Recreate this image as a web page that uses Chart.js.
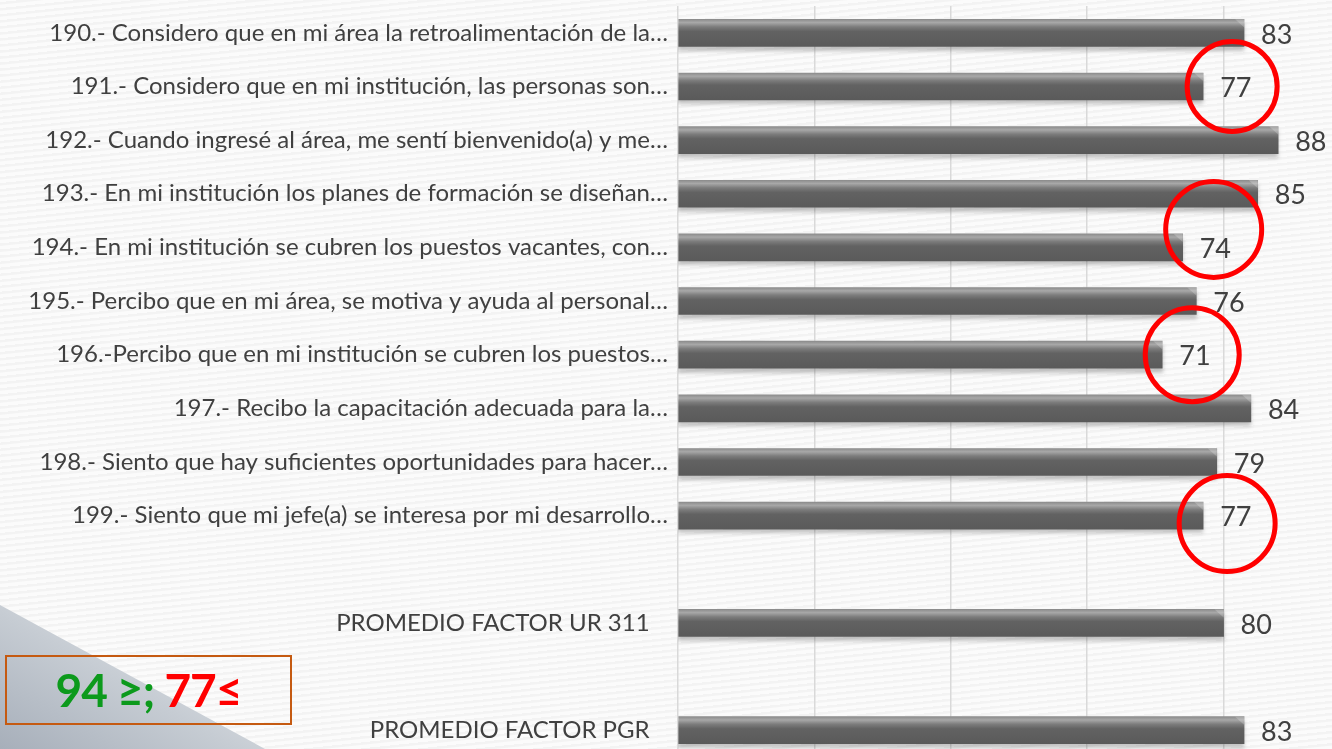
<!DOCTYPE html>
<html>
<head>
<meta charset="utf-8">
<script src="https://cdn.jsdelivr.net/npm/chart.js@4/dist/chart.umd.min.js"></script>
<style>
  html, body { margin: 0; padding: 0; width: 1332px; height: 749px; overflow: hidden; }
  body {
    position: relative;
    background: repeating-linear-gradient(-6deg, #fbfbfb 0px, #fbfbfb 3px, #f3f3f3 4px, #f3f3f3 6px);
  }
  #corner {
    position: absolute; left: 0; top: 0; width: 1332px; height: 749px;
    background: linear-gradient(30deg, #a7afba 0%, #c6ccd3 9%, #e3e6ea 16%, rgba(240,240,240,0) 17%);
    clip-path: polygon(0 605px, 265px 749px, 0 749px);
  }
  #wrap { position: absolute; left: 0; top: 0; width: 1360px; height: 757px; }
  #legendBox {
    position: absolute; left: 5px; top: 655px; width: 283px; height: 66px;
    border: 2px solid #c55a11;
    font-family: Lato, "Noto Sans", sans-serif; font-weight: bold; font-size: 46px;
    line-height: 66px; text-align: center; letter-spacing: -1px;
  }
  #legendBox .g { color: #0c9a1c; }
  #legendBox .r { color: #ff0000; }
</style>
</head>
<body>
<div id="corner"></div>
<div id="wrap"><canvas id="factorChart"></canvas></div>
<div id="legendBox"><span class="g">94 ≥;</span> <span class="r">77≤</span></div>
<script>
// Reactivos del factor (etiquetas como aparecen, truncadas)
const categories = [
    '190.- Considero que en mi área la retroalimentación de la…',
    '191.- Considero que en mi institución, las personas son…',
    '192.- Cuando ingresé al área, me sentí bienvenido(a) y me…',
    '193.- En mi institución los planes de formación se diseñan…',
    '194.- En mi institución se cubren los puestos vacantes, con…',
    '195.- Percibo que en mi área, se motiva y ayuda al personal…',
    '196.-Percibo que en mi institución se cubren los puestos…',
    '197.- Recibo la capacitación adecuada para la…',
    '198.- Siento que hay suficientes oportunidades para hacer…',
    '199.- Siento que mi jefe(a) se interesa por mi desarrollo…',
    '',
    'PROMEDIO FACTOR UR 311   ',
    '',
    'PROMEDIO FACTOR PGR   '
];
const scores = [83, 77, 88, 85, 74, 76, 71, 84, 79, 77, null, 80, null, 83];
const xTicks = [0, 20, 40, 60, 80, 100];
// reactivos marcados con círculo rojo (por debajo del umbral)
const flagged = [1, 4, 6, 9];

const textColor = '#404040';

function barGradient(ctx) {
    const chart = ctx.chart;
    const yScale = chart.scales.y;
    if (!yScale || ctx.dataIndex === undefined) return '#5f5f5f';
    const y = yScale.getPixelForValue(ctx.dataIndex);
    if (!isFinite(y)) return '#5f5f5f';
    const g = chart.ctx.createLinearGradient(0, y - 13.5, 0, y + 13.5);
    g.addColorStop(0, '#8c8c8c');
    g.addColorStop(0.12, '#a8a8a8');
    g.addColorStop(0.28, '#7c7c7c');
    g.addColorStop(0.45, '#626262');
    g.addColorStop(1, '#5a5a5a');
    return g;
}

// sombra suave debajo de las barras
const barShadow = {
    id: 'barShadow',
    beforeDatasetsDraw(chart) {
        const c = chart.ctx;
        c.save();
        c.shadowColor = 'rgba(0,0,0,0.22)';
        c.shadowBlur = 4;
        c.shadowOffsetY = 4;
    },
    afterDatasetsDraw(chart) {
        chart.ctx.restore();
    }
};

// biselado claro en el extremo de cada barra
const barBevel = {
    id: 'barBevel',
    afterDatasetsDraw(chart) {
        const c = chart.ctx;
        const meta = chart.getDatasetMeta(0);
        c.save();
        meta.data.forEach((bar, i) => {
            if (scores[i] === null) return;
            const top = bar.y - bar.height / 2;
            c.fillStyle = 'rgba(255,255,255,0.22)';
            c.beginPath();
            c.moveTo(bar.x - 9, top);
            c.lineTo(bar.x, top);
            c.lineTo(bar.x, top + 8);
            c.closePath();
            c.fill();
        });
        c.restore();
    }
};

// valores al final de cada barra
const valueLabels = {
    id: 'valueLabels',
    afterDatasetsDraw(chart) {
        const c = chart.ctx;
        const meta = chart.getDatasetMeta(0);
        c.save();
        c.font = '27px Lato, "Noto Sans", sans-serif';
        c.fillStyle = textColor;
        c.textAlign = 'left';
        c.textBaseline = 'middle';
        meta.data.forEach((bar, i) => {
            if (scores[i] === null) return;
            c.fillText(String(scores[i]), bar.x + 17, bar.y + 2);
        });
        c.restore();
    }
};

// círculos rojos sobre los valores bajos
const circleOffsets = { 1: [29, 0, 45], 4: [31, -18, 48], 6: [30, 0, 47], 9: [24, 8, 48] };
const redCircles = {
    id: 'redCircles',
    afterDraw(chart) {
        const c = chart.ctx;
        const meta = chart.getDatasetMeta(0);
        c.save();
        c.strokeStyle = '#ff0000';
        c.lineWidth = 5;
        flagged.forEach(i => {
            const bar = meta.data[i];
            const o = circleOffsets[i];
            c.beginPath();
            c.arc(bar.x + o[0], bar.y + o[1], o[2], 0, Math.PI * 2);
            c.stroke();
        });
        c.restore();
    }
};

const ctx = document.getElementById('factorChart').getContext('2d');
new Chart(ctx, {
    type: 'bar',
    data: {
        labels: categories,
        datasets: [{
            data: scores,
            backgroundColor: barGradient,
            borderWidth: 0,
            barThickness: 27
        }]
    },
    options: {
        indexAxis: 'y',
        responsive: true,
        maintainAspectRatio: false,
        animation: false,
        layout: { padding: { top: 6, right: 0, bottom: 0, left: 0 } },
        plugins: {
            legend: { display: false },
            tooltip: { enabled: false }
        },
        scales: {
            x: {
                min: 0,
                max: 100,
                afterBuildTicks: s => { s.ticks = xTicks.map(v => ({ value: v })); },
                afterFit: s => { s.height = 0; s.paddingLeft = 0; s.paddingRight = 0; },
                ticks: { display: false },
                grid: { color: '#d9d9d9', lineWidth: 1.5, drawTicks: false },
                border: { display: false }
            },
            y: {
                afterFit: s => { s.width = 678; s.paddingTop = 0; s.paddingBottom = 0; },
                ticks: {
                    color: textColor,
                    padding: 10,
                    autoSkip: false,
                    font: { family: 'Lato, "Noto Sans", sans-serif', size: 24 }
                },
                grid: { display: false, drawTicks: false },
                border: { display: false }
            }
        }
    },
    plugins: [barShadow, barBevel, valueLabels, redCircles]
});
</script>
</body>
</html>
